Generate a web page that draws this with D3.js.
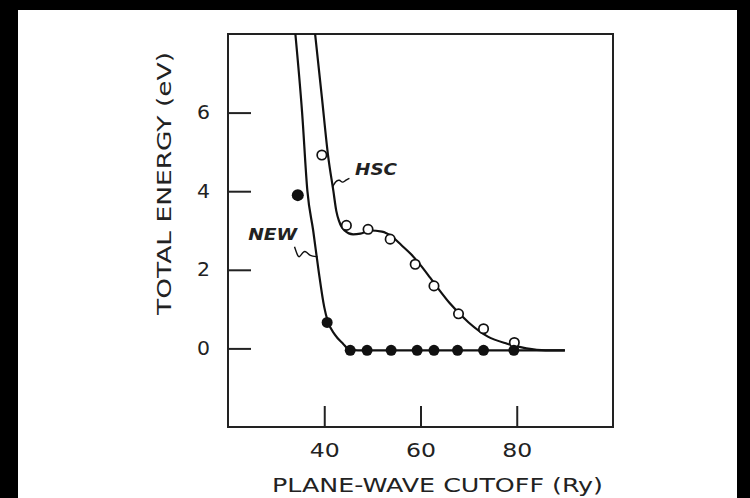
<!DOCTYPE html>
<html>
<head>
<meta charset="utf-8">
<script src="https://cdn.jsdelivr.net/npm/d3@7"></script>
<style>
  body { margin: 0; background: #000; }
  svg { display: block; }
  .tick text { font-family: "DejaVu Sans", sans-serif; font-size: 19px; fill: #222; }
  .axisTitle { font-family: "DejaVu Sans", sans-serif; font-size: 19px; fill: #222; }
  .curveLabel { font-family: "DejaVu Sans", sans-serif; font-size: 15px; font-style: italic; font-weight: bold; fill: #222; }
</style>
</head>
<body>
<svg id="chart" width="750" height="498"></svg>
<script>
// measured points, "NEW" pseudopotential (filled circles)
var new_x = [34.5, 40.6, 45.4, 48.9, 53.9, 59.3, 62.8, 67.7, 73.1, 79.4];
var new_y = [3.9, 0.66, -0.05, -0.05, -0.05, -0.05, -0.05, -0.05, -0.05, -0.05];

// measured points, HSC pseudopotential (open circles)
var hsc_x = [39.5, 44.6, 49.1, 53.7, 58.9, 62.8, 67.9, 73.1, 79.5];
var hsc_y = [4.92, 3.13, 3.03, 2.78, 2.14, 1.59, 0.88, 0.5, 0.15];

// fitted curves as drawn in the figure
var new_curve_x = [34.0, 35.4, 36.5, 37.7, 38.8, 40.0, 40.7, 42.2, 43.9, 45.2, 47.0, 90.0];
var new_curve_y = [8.0, 6.0, 4.0, 3.0, 2.0, 1.05, 0.7, 0.35, 0.12, -0.03, -0.05, -0.05];

var hsc_curve_x = [38.1, 39.5, 40.8, 41.9, 42.5, 43.1, 44.2, 46.0, 47.5, 49.5, 52.0, 54.0, 56.0, 58.0, 60.0, 62.0, 64.0, 66.0, 70.0, 74.0, 78.0, 82.0, 86.0, 90.0];
var hsc_curve_y = [8.0, 6.4, 4.9, 4.0, 3.5, 3.23, 3.0, 2.9, 2.92, 3.0, 2.97, 2.85, 2.63, 2.4, 2.12, 1.8, 1.47, 1.16, 0.66, 0.3, 0.12, 0.0, -0.05, -0.05];

// axes
var x_ticks = [40, 60, 80];
var y_ticks = [0, 2, 4, 6];
var x_title = "PLANE-WAVE CUTOFF (Ry)";
var y_title = "TOTAL ENERGY (eV)";

// curve labels (data coords) and where their wavy leaders touch the curves
var label_names = ["HSC", "NEW"];
var label_x = [46.4, 24.2];
var label_y = [4.41, 2.75];
var leader_x = [41.7, 38.6];
var leader_y = [4.1, 2.33];

var svg = d3.select("#chart");
var border_left = 228, border_top = 34, plot_right = 613, plot_bottom = 427;

svg.append("rect").attr("width", 750).attr("height", 498).attr("fill", "#000");
svg.append("rect").attr("x", 18).attr("y", 10).attr("width", 719).attr("height", 488).attr("fill", "#fff");

var x = d3.scaleLinear().domain([20, 100]).range([border_left, plot_right]);
var y = d3.scaleLinear().domain([-2, 8]).range([plot_bottom, border_top]);

svg.append("defs").append("clipPath").attr("id", "plotClip")
    .append("rect")
    .attr("x", border_left).attr("y", border_top)
    .attr("width", plot_right - border_left).attr("height", plot_bottom - border_top);

// ticks point inwards, as in the original
var xAxis = svg.append("g")
    .attr("transform", "translate(0," + plot_bottom + ")")
    .call(d3.axisBottom(x).tickValues(x_ticks).tickSizeInner(-21).tickSizeOuter(0).tickPadding(17));
var yAxis = svg.append("g")
    .attr("transform", "translate(" + border_left + ",0)")
    .call(d3.axisLeft(y).tickValues(y_ticks).tickSizeInner(-23).tickSizeOuter(0).tickPadding(18));

[xAxis, yAxis].forEach(function(a){
    a.select(".domain").remove();
    a.selectAll(".tick line").attr("stroke", "#222").attr("stroke-width", 2);
    a.selectAll(".tick text").attr("fill", "#222");
});
xAxis.selectAll(".tick text").attr("textLength", 30).attr("lengthAdjust", "spacingAndGlyphs");
yAxis.selectAll(".tick text").attr("textLength", 13).attr("lengthAdjust", "spacingAndGlyphs");

// frame
svg.append("rect")
    .attr("x", border_left).attr("y", border_top)
    .attr("width", plot_right - border_left).attr("height", plot_bottom - border_top)
    .attr("fill", "none").attr("stroke", "#222").attr("stroke-width", 2);

// axis titles
svg.append("text")
    .attr("class", "axisTitle")
    .attr("x", 272).attr("y", 492)
    .attr("textLength", 331).attr("lengthAdjust", "spacingAndGlyphs")
    .text(x_title);

svg.append("text")
    .attr("class", "axisTitle")
    .attr("transform", "translate(171,315) rotate(-90)")
    .attr("textLength", 263).attr("lengthAdjust", "spacingAndGlyphs")
    .text(y_title);

// fitted curves
var line = d3.line()
    .x(function(d){ return x(d[0]); })
    .y(function(d){ return y(d[1]); })
    .curve(d3.curveMonotoneX);

var curves = [d3.zip(new_curve_x, new_curve_y), d3.zip(hsc_curve_x, hsc_curve_y)];
svg.append("g").attr("clip-path", "url(#plotClip)")
    .selectAll("path")
    .data(curves)
    .enter().append("path")
    .attr("d", line)
    .attr("fill", "none")
    .attr("stroke", "#111")
    .attr("stroke-width", 2.2);

// open circles (HSC)
svg.selectAll(".hscPoint")
    .data(d3.zip(hsc_x, hsc_y))
    .enter().append("circle")
    .attr("class", "hscPoint")
    .attr("cx", function(d){ return x(d[0]); })
    .attr("cy", function(d){ return y(d[1]); })
    .attr("r", 4.7)
    .attr("fill", "#fff")
    .attr("stroke", "#111")
    .attr("stroke-width", 1.7);

// filled circles (NEW)
svg.selectAll(".newPoint")
    .data(d3.zip(new_x, new_y))
    .enter().append("circle")
    .attr("class", "newPoint")
    .attr("cx", function(d){ return x(d[0]); })
    .attr("cy", function(d){ return y(d[1]); })
    .attr("r", function(d, i){ return i == 0 ? 6 : 5.5; })
    .attr("fill", "#111");

// curve labels
svg.selectAll(".curveLabel")
    .data(label_names)
    .enter().append("text")
    .attr("class", "curveLabel")
    .attr("x", function(d, i){ return x(label_x[i]); })
    .attr("y", function(d, i){ return y(label_y[i]); })
    .attr("textLength", function(d, i){ return i == 0 ? 42 : 49; })
    .attr("lengthAdjust", "spacingAndGlyphs")
    .text(function(d){ return d; });

// wavy leaders between label and curve (small hand-drawn squiggles)
var squiggles = [
    [[0, 0], [3, -6], [7, -8], [10, -4], [13, -7], [17, -9]],
    [[0, 0], [3, 9], [5, 11], [9, 4], [12, 5], [15, 9], [23, 10]]
];
var squiggleLine = d3.line().curve(d3.curveBasis);
svg.selectAll(".leader")
    .data(squiggles)
    .enter().append("path")
    .attr("class", "leader")
    .attr("transform", function(d, i){
        // HSC leader starts on its curve, NEW leader ends on its curve
        var ax = x(leader_x[i]), ay = y(leader_y[i]);
        if (i == 1) { ax -= 23; ay -= 10; }
        return "translate(" + ax + "," + ay + ")";
    })
    .attr("d", squiggleLine)
    .attr("fill", "none")
    .attr("stroke", "#111")
    .attr("stroke-width", 1.4);
</script>
</body>
</html>
